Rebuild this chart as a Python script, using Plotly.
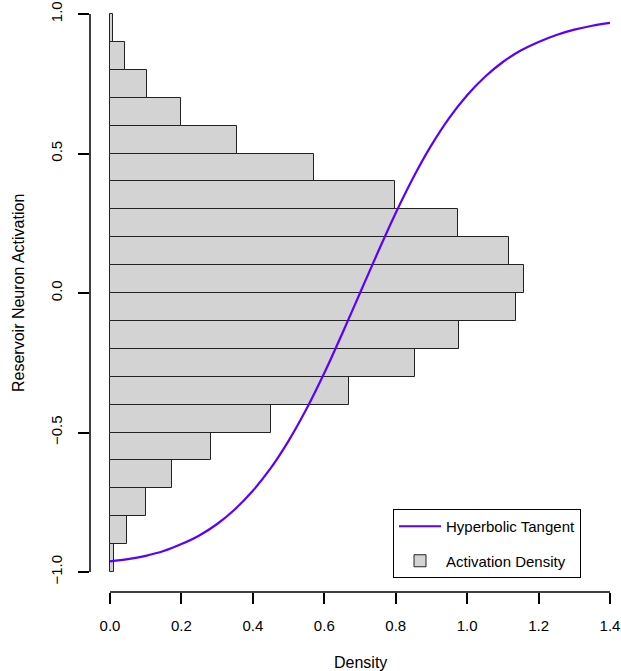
import plotly.graph_objects as go

# Histogram bins (activation) and densities
bin_lower = [-1.0, -0.9, -0.8, -0.7, -0.6, -0.5, -0.4, -0.3, -0.2, -0.1,
             0.0, 0.1, 0.2, 0.3, 0.4, 0.5, 0.6, 0.7, 0.8, 0.9]
density = [0.012, 0.047, 0.101, 0.174, 0.282, 0.450, 0.670, 0.853, 0.976, 1.137,
           1.159, 1.118, 0.975, 0.798, 0.571, 0.355, 0.200, 0.103, 0.043, 0.007]
bin_width = 0.1
bin_centers = [b + bin_width / 2 for b in bin_lower]

# Hyperbolic tangent curve points
curve_x = [0.0, 0.05, 0.1, 0.15, 0.2, 0.25, 0.3, 0.35, 0.4, 0.45, 0.5, 0.55, 0.6, 0.65, 0.7,
           0.75, 0.8, 0.85, 0.9, 0.95, 1.0, 1.05, 1.1, 1.15, 1.2, 1.25, 1.3, 1.35, 1.4]
curve_y = [-0.962, -0.954, -0.942, -0.925, -0.900, -0.869, -0.828, -0.775, -0.709, -0.628,
           -0.530, -0.416, -0.287, -0.146, 0.0, 0.146, 0.287, 0.416, 0.530, 0.628,
           0.709, 0.775, 0.828, 0.869, 0.900, 0.925, 0.944, 0.958, 0.968]

x_ticks = [0.0, 0.2, 0.4, 0.6, 0.8, 1.0, 1.2, 1.4]
x_tick_labels = ["0.0", "0.2", "0.4", "0.6", "0.8", "1.0", "1.2", "1.4"]
y_ticks = [-1.0, -0.5, 0.0, 0.5, 1.0]
y_tick_labels = ["\u22121.0", "\u22120.5", "0.0", "0.5", "1.0"]

FONT = "Liberation Sans, Arial, Helvetica, sans-serif"
FS_TICK = 15
FS_TITLE = 16
FS_LEG = 15

fig = go.Figure()
fig.add_trace(go.Bar(
    y=bin_centers, x=density, orientation="h", width=bin_width,
    marker=dict(color="#d3d3d3", line=dict(color="#222222", width=1)),
    name="Activation Density", legendrank=2, legendgroup="b",
))
fig.add_trace(go.Scatter(
    x=curve_x, y=curve_y, mode="lines", line=dict(color="#5b00ff", width=2.2, shape="spline"),
    name="Hyperbolic Tangent", legendrank=1, legendgroup="a",
))

# axis lines spanning first to last tick (R style)
fig.add_shape(type="line", xref="x", yref="paper", x0=x_ticks[0], x1=x_ticks[-1], y0=0, y1=0,
              line=dict(color="black", width=1.5))
fig.add_shape(type="line", xref="paper", yref="y", x0=0, x1=0, y0=y_ticks[0], y1=y_ticks[-1],
              line=dict(color="black", width=1.5))

fig.add_annotation(text="Density", xref="x", yref="paper", x=0.7, y=0, yshift=-70,
                   showarrow=False, font=dict(family=FONT, size=FS_TITLE, color="black"),
                   xanchor="center", yanchor="middle")
fig.add_annotation(text="Reservoir Neuron Activation", xref="paper", yref="y", x=0, y=0.0,
                   xshift=-72, showarrow=False, textangle=-90,
                   font=dict(family=FONT, size=FS_TITLE, color="black"),
                   xanchor="center", yanchor="middle")

fig.update_layout(
    width=621, height=671,
    margin=dict(l=90, r=0, t=0, b=79, autoexpand=False),
    paper_bgcolor="white", plot_bgcolor="white",
    font=dict(family=FONT, size=FS_TICK, color="black"),
    bargap=0,
    showlegend=True,
    legend=dict(
        x=(393 - 90) / 531, y=(592 - 509) / 592, xanchor="left", yanchor="top",
        bordercolor="black", borderwidth=1, bgcolor="white",
        font=dict(family=FONT, size=FS_LEG, color="black"),
        itemwidth=42, tracegroupgap=12, entrywidth=168, entrywidthmode="pixels",
    ),
    xaxis=dict(
        range=[-0.056, 1.4308], showgrid=False, zeroline=False, showline=False,
        tickmode="array", tickvals=x_ticks, ticktext=x_tick_labels,
        ticks="outside", ticklen=11, tickwidth=1.5, tickcolor="black",
        tickfont=dict(family=FONT, size=FS_TICK, color="black"), automargin=False,
        ticklabelstandoff=9,
    ),
    yaxis=dict(
        range=[-1.0717, 1.0502], showgrid=False, zeroline=False, showline=False,
        tickmode="array", tickvals=y_ticks, ticktext=y_tick_labels,
        ticks="outside", ticklen=11, tickwidth=1.5, tickcolor="black", tickangle=-90,
        tickfont=dict(family=FONT, size=FS_TICK, color="black"), automargin=False,
        ticklabelstandoff=10,
    ),
)

fig.write_html("out.html", config={"displayModeBar": False},
               post_script="document.body.style.margin='0px';document.body.style.padding='0px';")
